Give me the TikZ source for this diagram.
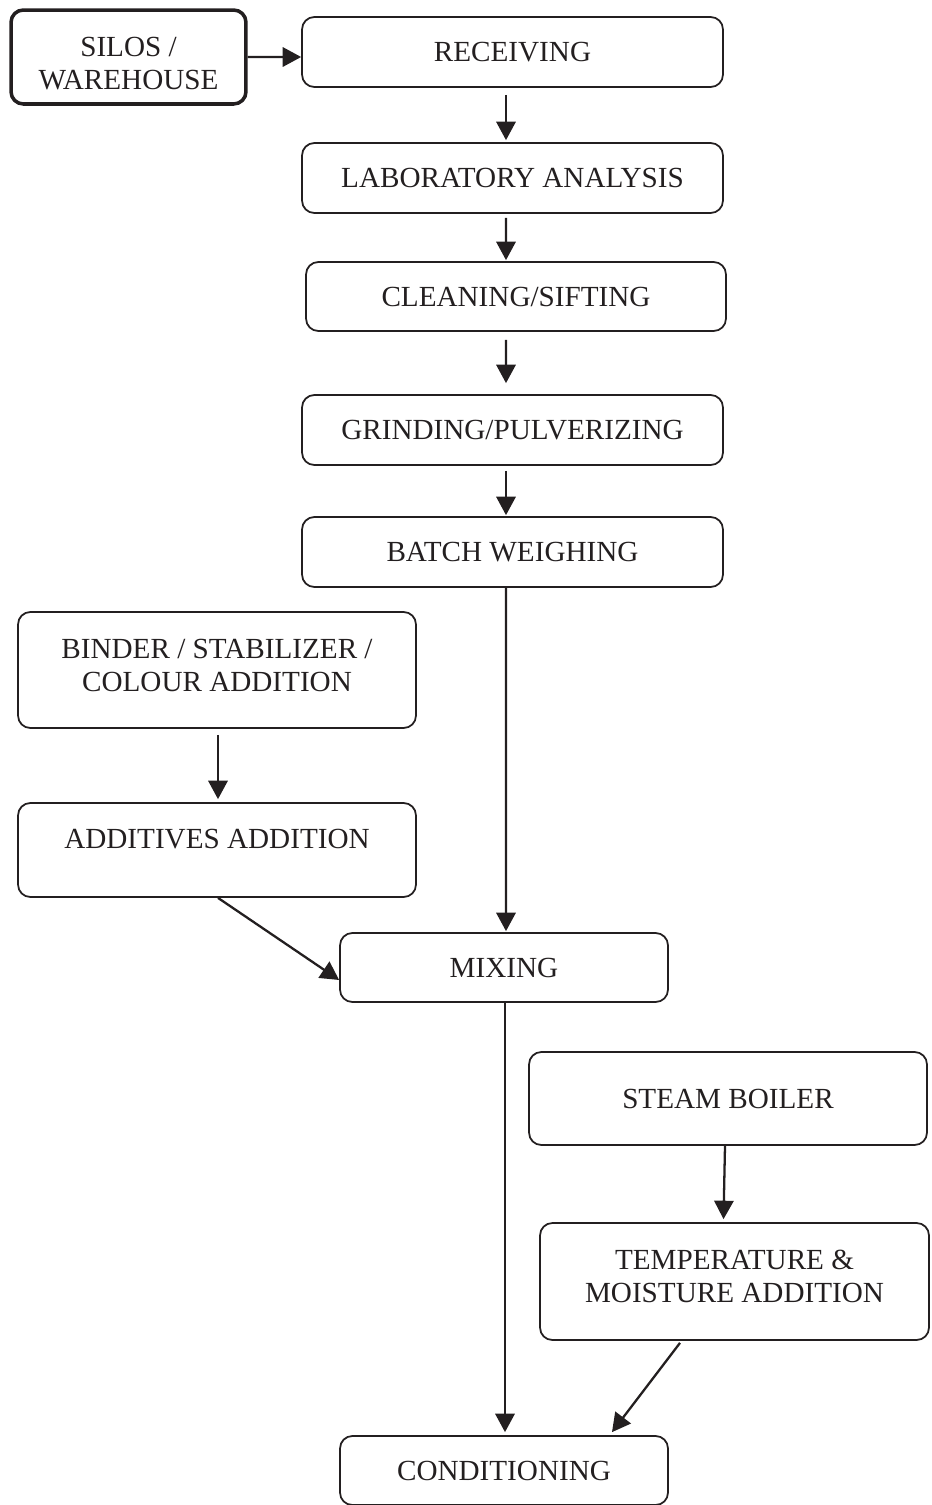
\documentclass[tikz,border=0pt]{standalone}
\usepackage{fontspec}
\setmainfont{Liberation Serif}
\usetikzlibrary{arrows.meta}
\definecolor{ink}{HTML}{231F20}
\tikzstyle{stage}=[draw=ink,line width=1pt,rounded corners=7pt,align=center,inner sep=0pt,
  font=\fontsize{16.6}{18.8}\selectfont,text=ink]
\tikzstyle{wide}=[stage,minimum width=8.42cm,minimum height=1.4cm]
\tikzstyle{side}=[stage,minimum width=7.96cm]
\tikzstyle{mid}=[stage,minimum width=6.56cm,minimum height=1.38cm]
\tikzstyle{flow}=[draw=ink,line width=1.3pt,-{Triangle[length=10.5pt,width=11pt]}]

\begin{document}
\begin{tikzpicture}[x=0.02cm,y=-0.02cm]
\useasboundingbox (0,0) rectangle (931,1505);
\node[stage,line width=2pt,minimum width=4.7cm,minimum height=1.88cm,text height=37pt,text depth=0pt] at (128.5,57) (silos) {SILOS /\\WAREHOUSE};
\node[wide] at (512.5,52) (receiving) {RECEIVING};
\node[wide] at (512.5,178) (lab) {LABORATORY ANALYSIS};
\node[wide,minimum width=8.4cm,minimum height=1.38cm] at (516,296.5) (cleaning) {CLEANING/SIFTING};
\node[wide] at (512.5,430) (grinding) {GRINDING/PULVERIZING};
\node[wide] at (512.5,552) (batch) {BATCH WEIGHING};
\node[side,minimum height=2.32cm,text depth=5.3pt] at (217,670) (binder) {BINDER / STABILIZER /\\COLOUR ADDITION};
\node[side,minimum height=1.88cm,text depth=12.6pt] at (217,850) (additives) {ADDITIVES ADDITION};
\node[mid] at (504,967.5) (mixing) {MIXING};
\node[side,minimum height=1.86cm] at (728,1098.5) (steam) {STEAM BOILER};
\node[stage,minimum width=7.78cm,minimum height=2.34cm,text depth=5.5pt] at (734.5,1281.5) (temp) {TEMPERATURE \&\\MOISTURE ADDITION};
\node[mid] at (504,1470.5) (conditioning) {CONDITIONING};
% main line
\draw[flow] (silos.east) -- ([yshift=-1mm]receiving.west);
\draw[flow] ([xshift=-1.3mm,yshift=-1.4mm]receiving.south) -- ([xshift=-1.3mm,yshift=0.4mm]lab.north);
\draw[flow] ([xshift=-1.3mm,yshift=-0.8mm]lab.south) -- ([xshift=-2mm,yshift=0.2mm]cleaning.north);
\draw[flow] ([xshift=-2mm,yshift=-1.6mm]cleaning.south) -- ([xshift=-1.3mm,yshift=2.2mm]grinding.north);
\draw[flow] ([xshift=-1.3mm,yshift=-1mm]grinding.south) -- ([xshift=-1.3mm,yshift=0.2mm]batch.north);
\draw[flow] ([xshift=-1.3mm]batch.south) -- ([xshift=0.4mm,yshift=0.2mm]mixing.north);
% side inputs
\draw[flow] ([xshift=0.2mm,yshift=-1.2mm]binder.south) -- ([xshift=0.2mm,yshift=0.6mm]additives.north);
\draw[flow] ([xshift=0.2mm]additives.south) -- ([yshift=-2.5mm]mixing.west);
\draw[flow] ([xshift=0.2mm]mixing.south) -- ([xshift=0.2mm,yshift=0.6mm]conditioning.north);
\draw[flow] ([xshift=-0.6mm]steam.south) -- ([xshift=-2.2mm,yshift=0.6mm]temp.north);
\draw[flow] ([xshift=-10.9mm,yshift=-0.4mm]temp.south) -- ([xshift=21.6mm,yshift=0.6mm]conditioning.north);
\end{tikzpicture}
\end{document}
